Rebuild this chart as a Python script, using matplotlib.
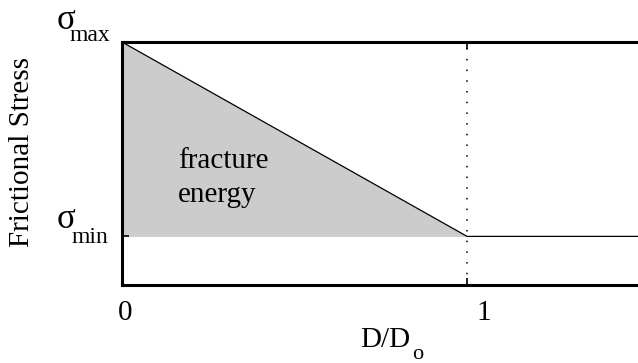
import matplotlib.pyplot as plt

plt.rcParams['font.family'] = ['Liberation Serif', 'DejaVu Serif']

# slip-weakening law: stress drops linearly from max to min over D/Do = 0..1
slip = [0.0, 1.0, 1.52]
stress = [5.0, 1.0, 1.0]
sigma_min = 1.0
sigma_max = 5.0
x_ticks = [0, 1]
x_labels = ['0', '1']

fig = plt.figure(figsize=(6.38, 3.63), dpi=100)
ax = fig.add_axes([0.1912, 0.2149, 0.82, 0.6694])

# fracture energy area under the weakening curve
ax.fill_between(slip[:2], stress[:2], sigma_min, color='#cccccc', linewidth=0)
ax.plot(slip, stress, color='black', linewidth=0.9)
ax.axvline(1.0, color='black', linestyle=(0, (1, 6)), linewidth=1.1)

ax.set_xlim(0, 1.516)
ax.set_ylim(0, sigma_max)

for s in ['left', 'bottom', 'top']:
    ax.spines[s].set_linewidth(2.2)
ax.spines['right'].set_visible(False)

ax.set_xticks(x_ticks)
ax.set_xticklabels([])
ax.set_yticks([sigma_min, sigma_max])
ax.set_yticklabels([])
ax.tick_params(direction='in', length=5, width=1.2, top=True)

# x tick labels sit a little right of their ticks
for xv, lab, dx in zip(x_ticks, x_labels, [2.2, 12.2]):
    ax.annotate(lab, xy=(xv, 0), xytext=(dx, -10.5), textcoords='offset points',
                fontsize=21, ha='center', va='top')

# sigma tick labels with subscripts
ax.annotate('σ', xy=(0, sigma_max), xytext=(-40, 9), textcoords='offset points',
            fontsize=25, ha='center', va='baseline')
ax.annotate('max', xy=(0, sigma_max), xytext=(-8.6, 0.7), textcoords='offset points',
            fontsize=17, ha='right', va='baseline')
ax.annotate('σ', xy=(0, sigma_min), xytext=(-40, 5.8), textcoords='offset points',
            fontsize=25, ha='center', va='baseline')
ax.annotate('min', xy=(0, sigma_min), xytext=(-10, -5), textcoords='offset points',
            fontsize=17, ha='right', va='baseline')

ax.text(0.162, 2.41, 'fracture', fontsize=21, ha='left', va='baseline')
ax.text(0.162, 1.71, 'energy', fontsize=21, ha='left', va='baseline')

fig.text(0.034, 0.581, 'Frictional Stress', rotation=90, fontsize=21,
         ha='center', va='center')
fig.text(0.6426, 0.0441, 'D/D', fontsize=21, ha='right', va='baseline')
fig.text(0.6458, 0.012, 'o', fontsize=16, ha='left', va='baseline')

fig.savefig('out.png', dpi=100)
